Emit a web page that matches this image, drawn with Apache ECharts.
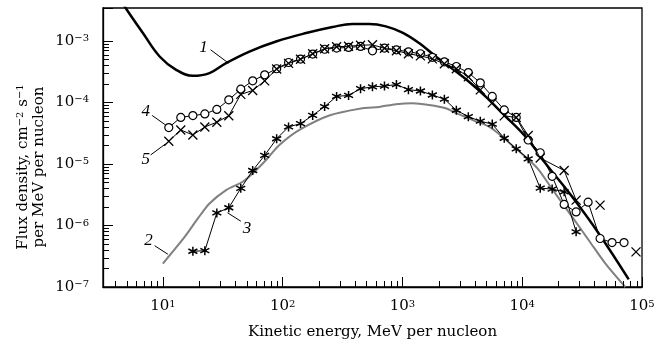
<!DOCTYPE html>
<html><head><meta charset="utf-8">
<script src="https://cdn.jsdelivr.net/npm/echarts@6/dist/echarts.min.js"></script>
<style>html,body{margin:0;padding:0;background:#fff}#c{width:666px;height:345px}</style>
</head><body><div id="c"></div>
<script>
// ---- axis ranges and tick labels ----
const X_MIN = 3.1623, X_MAX = 1e5;
const Y_MIN = 1e-7, Y_MAX = 3.42e-3;
const xTickExps = [1, 2, 3, 4, 5];
const yTickExps = [-7, -6, -5, -4, -3];

// ---- curve 1 (thick black) ----
const curve1E = [4.61, 4.95, 6.81, 9.39, 12.9, 17.8, 24.5, 33.7, 52.8, 88.1, 157, 261, 383, 528, 727, 1000, 1377, 1897, 2610, 3594, 4955, 6813, 10670, 15670, 26120, 43550, 77450];
const curve1F = [4.18e-3, 3.30e-3, 1.34e-3, 5.57e-4, 3.38e-4, 2.70e-4, 2.99e-4, 4.35e-4, 6.71e-4, 9.77e-4, 1.34e-3, 1.68e-3, 1.88e-3, 1.88e-3, 1.72e-3, 1.36e-3, 9.20e-4, 5.57e-4, 3.52e-4, 2.16e-4, 1.24e-4, 6.67e-5, 2.77e-5, 1.02e-5, 2.92e-6, 7.41e-7, 1.33e-7];

// ---- curve 2 (gray) ----
const curve2E = [10, 11.4, 15.2, 19.6, 24.5, 33.7, 46.4, 58.1, 72.7, 93.9, 138, 245, 464, 640, 881, 1211, 1668, 2299, 2786, 3828, 5282, 6813, 8810, 11376, 13770, 17250, 26120, 35940, 49540, 72600];
const curve2F = [2.40e-7, 3.28e-7, 6.52e-7, 1.30e-6, 2.28e-6, 3.76e-6, 5.13e-6, 7.46e-6, 1.16e-5, 2.03e-5, 3.57e-5, 6.14e-5, 8.05e-5, 8.45e-5, 9.35e-5, 9.71e-5, 9.10e-5, 8.05e-5, 6.75e-5, 5.19e-5, 4.04e-5, 2.77e-5, 1.79e-5, 1.16e-5, 7.96e-6, 4.25e-6, 1.38e-6, 5.76e-7, 2.40e-7, 1.0e-7];

// ---- series 3 (asterisks) ----
const starE = [17.8, 22.4, 28.2, 35.5, 44.7, 56.2, 70.8, 89.1, 112, 141, 178, 224, 282, 355, 447, 562, 708, 891, 1122, 1413, 1778, 2239, 2818, 3548, 4467, 5623, 7079, 8913, 11220, 14130, 17780, 22390, 28180];
const starF = [3.81e-7, 3.89e-7, 1.60e-6, 1.94e-6, 4.01e-6, 7.82e-6, 1.38e-5, 2.57e-5, 3.99e-5, 4.52e-5, 6.14e-5, 8.55e-5, 1.25e-4, 1.30e-4, 1.67e-4, 1.79e-4, 1.84e-4, 1.95e-4, 1.61e-4, 1.53e-4, 1.32e-4, 1.13e-4, 7.46e-5, 5.87e-5, 4.95e-5, 4.44e-5, 2.61e-5, 1.76e-5, 1.21e-5, 4.04e-6, 3.90e-6, 3.52e-6, 7.87e-7];

// ---- series 4 (circles) ----
const circE = [11.2, 14.1, 17.8, 22.4, 28.2, 35.5, 44.7, 56.2, 70.8, 89.1, 112, 141, 178, 224, 282, 355, 447, 562, 708, 891, 1122, 1413, 1778, 2239, 2818, 3548, 4467, 5623, 7079, 8913, 11220, 14130, 17780, 22390, 28180, 35480, 44670, 56230, 70790];
const circF = [3.9e-5, 5.7e-5, 6.1e-5, 6.5e-5, 7.7e-5, 1.10e-4, 1.64e-4, 2.24e-4, 2.81e-4, 3.52e-4, 4.45e-4, 5.06e-4, 6.10e-4, 7.3e-4, 7.64e-4, 7.82e-4, 8.11e-4, 6.9e-4, 7.64e-4, 7.16e-4, 6.64e-4, 6.17e-4, 5.41e-4, 4.57e-4, 3.83e-4, 3.05e-4, 2.08e-4, 1.25e-4, 7.55e-5, 5.7e-5, 2.45e-5, 1.52e-5, 6.28e-6, 2.2e-6, 1.66e-6, 2.39e-6, 6.14e-7, 5.28e-7, 5.28e-7];

// ---- series 5 (crosses); null = break in the line ----
const crossE = [11.2, 14.1, 17.8, 22.4, 28.2, 35.5, 44.7, 56.2, 70.8, 89.1, 112, 141, 178, 224, 282, 355, 447, 562, 708, 891, 1122, 1413, 1778, 2239, 2818, 3548, 4467, 5623, 7079, 8913, 11220, 14130, 22390, 28180, 35480, 44670, 56230, 89130];
const crossF = [2.34e-5, 3.56e-5, 2.96e-5, 3.99e-5, 4.77e-5, 6.07e-5, 1.35e-4, 1.56e-4, 2.24e-4, 3.48e-4, 4.31e-4, 5.01e-4, 6.17e-4, 7.43e-4, 8.02e-4, 8.17e-4, 8.47e-4, 8.63e-4, 7.57e-4, 6.90e-4, 6.17e-4, 5.71e-4, 5.10e-4, 4.24e-4, 3.52e-4, 2.60e-4, 1.60e-4, 9.82e-5, 6.03e-5, 5.70e-5, 2.90e-5, 1.25e-5, 7.82e-6, 2.58e-6, null, 2.14e-6, null, 3.72e-7];

// ---- curve annotations (data coordinates) ----
const annLabels = ['1', '2', '3', '4', '5'];
const annText = [[21.8, 7.87e-4], [7.6, 5.77e-7], [50.3, 8.93e-7], [7.18, 7.13e-5], [7.18, 1.18e-5]];
const annFrom = [[25.0, 7.16e-4], [8.53, 4.69e-7], [44.8, 1.17e-6], [8.13, 6.14e-5], [7.9, 1.40e-5]];
const annTo = [[35.3, 4.35e-4], [11.0, 3.41e-7], [34.6, 1.61e-6], [10.5, 4.31e-5], [10.5, 2.11e-5]];

const pair = (xs, ys) => xs.map((x, i) => [x, ys[i] == null ? '-' : ys[i]]);

// minor tick positions (2..9 per decade)
const xMinor = [], yMinor = [];
for (let d = 0; d <= 4; d++) for (let m = 2; m <= 9; m++) { const v = m * Math.pow(10, d); if (v > X_MIN && v < X_MAX) xMinor.push([v, Y_MIN]); }
for (let d = -7; d <= -4; d++) for (let m = 2; m <= 9; m++) { const v = m * Math.pow(10, d); if (v > Y_MIN && v < 1e-3) yMinor.push([X_MIN, v]); }

const SERIF = 'DejaVu Serif';
function expLabel(v) {
  const e = Math.log10(v), r = Math.round(e);
  if (Math.abs(e - r) > 1e-6) return '';
  return '10{sup|' + (r < 0 ? '\u2212' + (-r) : r) + '}';
}
const labelRich = { sup: { fontSize: 10, fontFamily: SERIF, color: '#000', verticalAlign: 'top' } };

const X_SYM = 'path://M0,0L10,10M10,0L0,10';
const STAR_SYM = 'path://M5,0L5,10M0.67,2.5L9.33,7.5M0.67,7.5L9.33,2.5';

const chart = echarts.init(document.getElementById('c'));
chart.setOption({
  animation: false,
  backgroundColor: '#fff',
  grid: { left: 103, top: 8, right: 24, bottom: 58, show: true, borderColor: '#000', borderWidth: 1.3, backgroundColor: 'transparent' },
  xAxis: {
    type: 'log', logBase: 10, min: X_MIN, max: X_MAX,
    axisLine: { lineStyle: { color: '#000', width: 1.3 } },
    axisTick: { inside: true, length: 10, lineStyle: { color: '#000', width: 1 } },
    splitLine: { show: false },
    axisLabel: { formatter: expLabel, fontFamily: SERIF, fontSize: 15, color: '#000', margin: 12, rich: labelRich }
  },
  yAxis: {
    type: 'log', logBase: 10, min: Y_MIN, max: Y_MAX,
    axisLine: { lineStyle: { color: '#000', width: 1.3 } },
    axisTick: { inside: true, length: 10, lineStyle: { color: '#000', width: 1 } },
    splitLine: { show: false },
    axisLabel: { formatter: expLabel, fontFamily: SERIF, fontSize: 15, color: '#000', margin: 14, rich: labelRich }
  },
  series: [
    { type: 'line', name: '2', data: pair(curve2E, curve2F), smooth: 0.3, showSymbol: false,
      lineStyle: { color: '#808080', width: 2 }, z: 2 },
    { type: 'line', name: '3', data: pair(starE, starF), showSymbol: true, showAllSymbol: true,
      symbol: STAR_SYM, symbolSize: 9,
      itemStyle: { color: '#000', borderColor: '#000', borderWidth: 1.5 },
      lineStyle: { color: '#000', width: 1 }, z: 3 },
    { type: 'line', name: '1', data: pair(curve1E, curve1F), smooth: 0.4, showSymbol: false,
      lineStyle: { color: '#000', width: 2.5 }, z: 4 },
    { type: 'line', name: '4', data: pair(circE, circF), showSymbol: true, showAllSymbol: true,
      symbol: 'circle', symbolSize: 8,
      itemStyle: { color: '#fff', borderColor: '#000', borderWidth: 1.2 },
      lineStyle: { color: '#000', width: 1 }, z: 5 },
    { type: 'line', name: '5', data: pair(crossE, crossF), showSymbol: true, showAllSymbol: true,
      symbol: X_SYM, symbolSize: 9, connectNulls: false,
      itemStyle: { color: '#000', borderColor: '#000', borderWidth: 1.3 },
      lineStyle: { color: '#000', width: 1 }, z: 6 },
    { type: 'custom', name: 'xminor', data: xMinor, silent: true, z: 7,
      renderItem: (p, api) => { const c = api.coord([api.value(0), api.value(1)]); const x = Math.round(c[0]) + 0.5;
        return { type: 'line', shape: { x1: x, y1: c[1], x2: x, y2: c[1] - 6 }, style: { stroke: '#000', lineWidth: 1 } }; } },
    { type: 'custom', name: 'yminor', data: yMinor, silent: true, z: 7,
      renderItem: (p, api) => { const c = api.coord([api.value(0), api.value(1)]); const y = Math.round(c[1]) + 0.5;
        return { type: 'line', shape: { x1: c[0], y1: y, x2: c[0] + 6, y2: y }, style: { stroke: '#000', lineWidth: 1 } }; } }
  ]
});

// annotations and axis titles
const g = [];
annLabels.forEach((t, i) => {
  const p = chart.convertToPixel({ gridIndex: 0 }, annText[i]);
  const a = chart.convertToPixel({ gridIndex: 0 }, annFrom[i]);
  const b = chart.convertToPixel({ gridIndex: 0 }, annTo[i]);
  g.push({ type: 'text', x: p[0], y: p[1], z: 20, style: { text: t, font: 'italic 17px "Liberation Serif"', fill: '#000', align: 'center', verticalAlign: 'middle' } });
  g.push({ type: 'line', z: 20, shape: { x1: a[0], y1: a[1], x2: b[0], y2: b[1] }, style: { stroke: '#000', lineWidth: 1 } });
});
g.push({ type: 'text', x: 372.5, y: 332, z: 20, style: { text: 'Kinetic energy, MeV per nucleon', fontFamily: SERIF, fontSize: 15, fill: '#000', align: 'center', verticalAlign: 'middle' } });
g.push({ type: 'text', x: 31, y: 167, rotation: Math.PI / 2, z: 20, style: {
  text: 'Flux density, cm{sup|\u22122} s{sup|\u22121}\nper MeV per nucleon', fontFamily: SERIF, fontSize: 15, lineHeight: 16, fill: '#000', align: 'center', verticalAlign: 'middle',
  rich: { sup: { fontSize: 10, fontFamily: SERIF, fill: '#000', verticalAlign: 'top', lineHeight: 16 } } } });
chart.setOption({ graphic: g });
</script></body></html>
